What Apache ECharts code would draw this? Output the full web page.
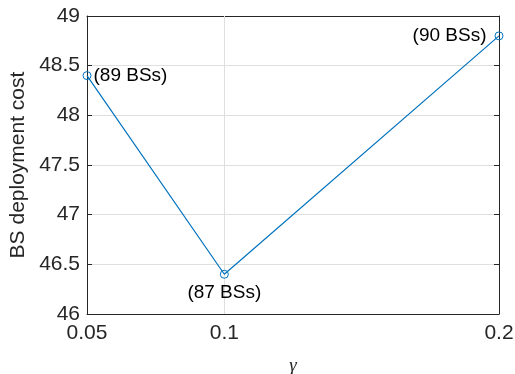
<!DOCTYPE html>
<html><head><meta charset="utf-8">
<script src="https://cdn.jsdelivr.net/npm/echarts@6/dist/echarts.min.js"></script>
<style>html,body{margin:0;padding:0;background:#fff}#c{width:515px;height:374px}</style>
</head><body><div id="c"></div>
<script>
const gammaValues = [0.05, 0.1, 0.2];
const costValues = [48.4, 46.4, 48.8];
const bsLabels = ['(89 BSs)', '(87 BSs)', '(90 BSs)'];
const xTicks = [0.05, 0.1, 0.2];
const labelPos = ['right', 'bottom', 'left'];
const labelDist = [2, 4, 8];

const chart = echarts.init(document.getElementById('c'), null, {renderer: 'canvas'});
const font = 'Liberation Sans, Arial, Helvetica, sans-serif';
const axisColor = '#262626';
const gridColor = '#dfdfdf';

const pts = gammaValues.map((g, i) => ({
  value: [g, costValues[i]],
  label: {show: true, formatter: bsLabels[i], position: labelPos[i], distance: labelDist[i],
          color: '#000', fontSize: 19, fontFamily: font}
}));

chart.setOption({
  animation: false,
  grid: {left: 87, right: 16, top: 16, bottom: 60, containLabel: false, outerBoundsMode: 'none'},
  xAxis: [{
    type: 'value', min: 0.05, max: 0.2, position: 'bottom',
    name: 'γ', nameLocation: 'middle', nameGap: 42,
    nameTextStyle: {fontFamily: 'Liberation Serif, Times New Roman, serif', fontStyle: 'italic', fontSize: 19, color: axisColor},
    axisLine: {show: true, onZero: false, lineStyle: {color: axisColor, width: 1}},
    axisTick: {show: true, inside: true, length: 5, customValues: xTicks, lineStyle: {color: axisColor}},
    axisLabel: {customValues: xTicks, fontSize: 21, fontFamily: font, color: axisColor, margin: 9,
                formatter: v => String(+v.toFixed(2))},
    splitLine: {show: false}
  }, {
    type: 'value', min: 0.05, max: 0.2, position: 'top',
    axisLine: {show: true, onZero: false, lineStyle: {color: axisColor, width: 1}},
    axisTick: {show: true, inside: true, length: 5, customValues: xTicks, lineStyle: {color: axisColor}},
    axisLabel: {show: false}, splitLine: {show: false}
  }],
  yAxis: [{
    type: 'value', min: 46, max: 49, interval: 0.5, position: 'left',
    name: 'BS deployment cost', nameLocation: 'middle', nameGap: 55,
    nameTextStyle: {fontFamily: font, fontSize: 21, color: axisColor},
    axisLine: {show: true, onZero: false, lineStyle: {color: axisColor, width: 1}},
    axisTick: {show: true, inside: true, length: 5, lineStyle: {color: axisColor}},
    axisLabel: {fontSize: 21, fontFamily: font, color: axisColor, margin: 7},
    splitLine: {show: true, lineStyle: {color: gridColor, width: 1}}
  }, {
    type: 'value', min: 46, max: 49, interval: 0.5, position: 'right',
    axisLine: {show: true, onZero: false, lineStyle: {color: axisColor, width: 1}},
    axisTick: {show: true, inside: true, length: 5, lineStyle: {color: axisColor}},
    axisLabel: {show: false}, splitLine: {show: false}
  }],
  series: [{
    type: 'line', xAxisIndex: 0, yAxisIndex: 0,
    data: pts,
    symbol: 'circle', symbolSize: 8,
    lineStyle: {color: '#0072BD', width: 1.2},
    itemStyle: {color: 'transparent', borderColor: '#0072BD', borderWidth: 1},
    z: 5,
    markLine: {
      silent: true, symbol: 'none', label: {show: false},
      lineStyle: {color: gridColor, width: 1, type: 'solid'},
      data: xTicks.slice(1, -1).map(v => ({xAxis: v}))
    }
  }]
});
</script></body></html>
